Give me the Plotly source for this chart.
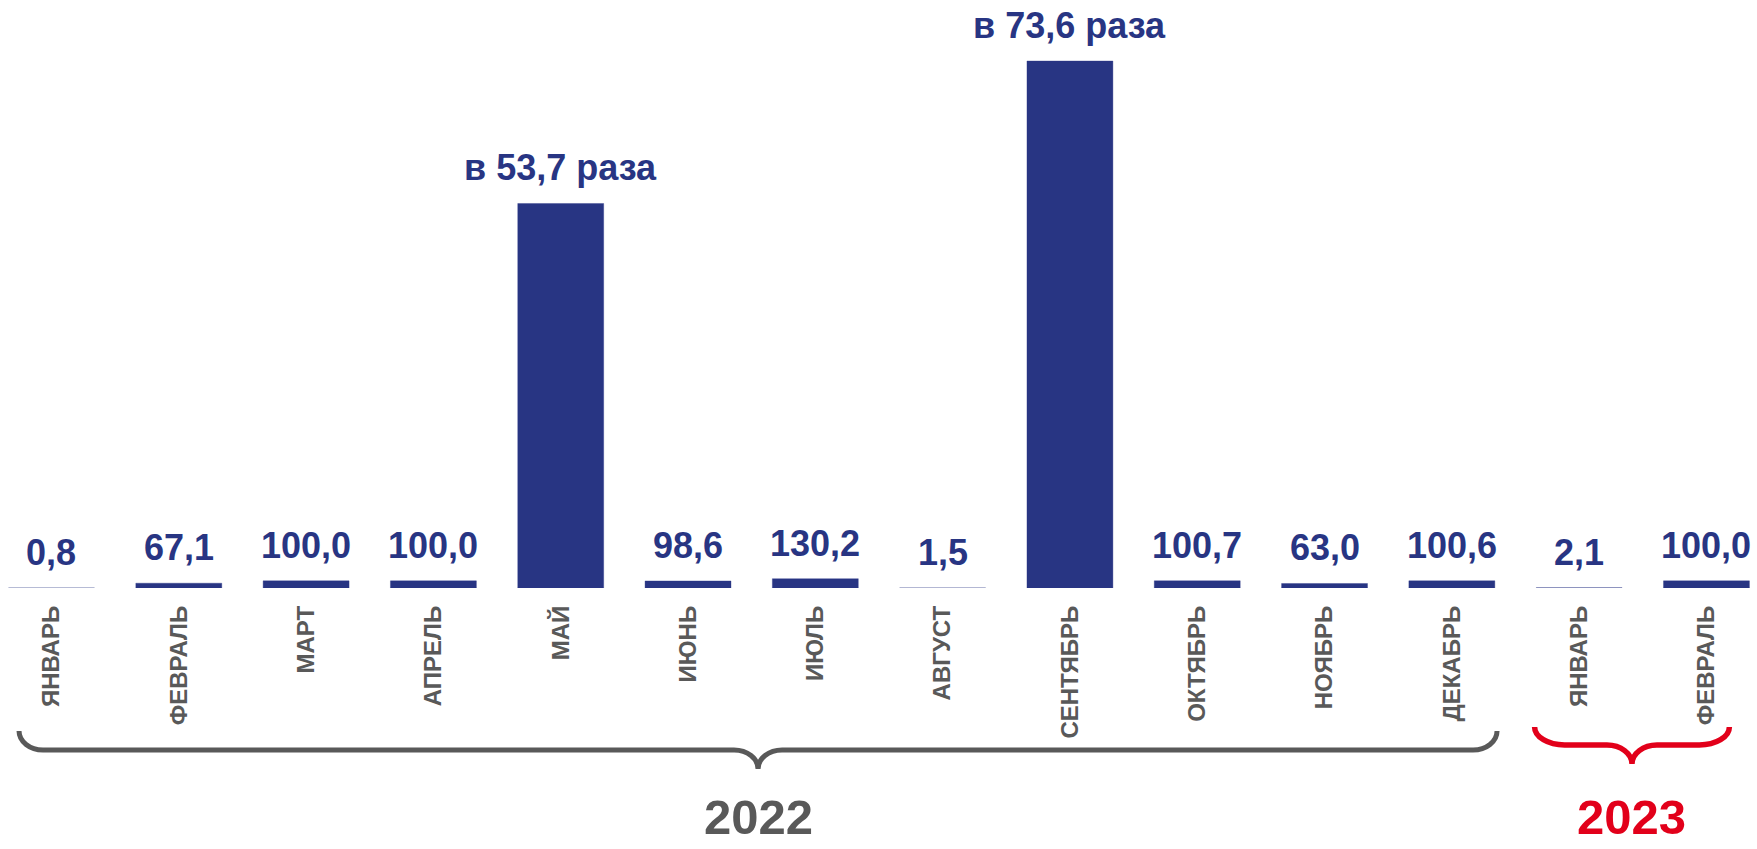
import plotly.graph_objects as go

# ---------------- data ----------------
months = ["ЯНВАРЬ", "ФЕВРАЛЬ", "МАРТ", "АПРЕЛЬ", "МАЙ", "ИЮНЬ", "ИЮЛЬ",
          "АВГУСТ", "СЕНТЯБРЬ", "ОКТЯБРЬ", "НОЯБРЬ", "ДЕКАБРЬ",
          "ЯНВАРЬ", "ФЕВРАЛЬ"]
values = [0.8, 67.1, 100.0, 100.0, 5370.0, 98.6, 130.2, 1.5, 7360.0,
          100.7, 63.0, 100.6, 2.1, 100.0]
years = ["2022", "2023"]
year_first = [0, 12]   # index of first month of each year
year_last = [11, 13]   # index of last month of each year

# ---------------- style ----------------
NAVY = "#283583"
GREY = "#595959"
RED = "#E2001A"
FONT = "Liberation Sans, Arial, sans-serif"
W, H = 1757, 849
M_B = 261
PLOT_H = H - M_B
XR = [-0.4045, 13.397]
YR = [0, 8212]
PX_X = W / (XR[1] - XR[0])   # pixels per category unit


def fmt(v):
    if v >= 1000:
        return "в " + f"{v / 100:.1f}".replace(".", ",") + " раза"
    return f"{v:.1f}".replace(".", ",")


x_idx = list(range(len(months)))

fig = go.Figure()
fig.add_trace(go.Bar(
    x=x_idx, y=values,
    marker=dict(color=NAVY, line=dict(color="rgba(40,53,131,0.35)", width=1)),
    width=0.675,
    hoverinfo="skip",
))

# value labels
for i, v in enumerate(values):
    fig.add_annotation(
        x=i, y=v, xref="x", yref="y",
        text=fmt(v), showarrow=False, yanchor="bottom",
        yshift=13,
        font=dict(family=FONT, size=36, color=NAVY, weight="bold"),
    )


def brace(xa, xb, line_below, up, down, r_end, r_mid, color, width):
    """Curly brace path; xa/xb in category units, offsets in px below axis."""
    def X(px_off, base):
        return base + px_off / PX_X

    def Y(px_below):
        return -px_below / PLOT_H

    xm = (xa + xb) / 2
    yl = line_below
    k = 0.55
    p = []
    p.append(f"M {xa},{Y(yl - up)}")
    p.append(f"C {xa},{Y(yl - up + k * up)} {X(r_end * (1 - k), xa)},{Y(yl)} {X(r_end, xa)},{Y(yl)}")
    p.append(f"L {X(-r_mid, xm)},{Y(yl)}")
    p.append(f"C {X(-r_mid * (1 - k), xm)},{Y(yl)} {xm},{Y(yl + down * (1 - k))} {xm},{Y(yl + down)}")
    p.append(f"C {xm},{Y(yl + down * (1 - k))} {X(r_mid * (1 - k), xm)},{Y(yl)} {X(r_mid, xm)},{Y(yl)}")
    p.append(f"L {X(-r_end, xb)},{Y(yl)}")
    p.append(f"C {X(-r_end * (1 - k), xb)},{Y(yl)} {xb},{Y(yl - up + k * up)} {xb},{Y(yl - up)}")
    fig.add_shape(type="path", path=" ".join(p), xref="x", yref="paper",
                  line=dict(color=color, width=width), layer="above")
    return xm


brace_specs = [
    dict(pad_l=0.255, pad_r=0.355, below=162, up=19, down=19, r_end=24, r_mid=24, color=GREY, width=5),
    dict(pad_l=0.35, pad_r=0.18, below=157, up=18, down=19, r_end=30, r_mid=25, color=RED, width=5.5),
]

for yr, f0, f1, s in zip(years, year_first, year_last, brace_specs):
    xm = brace(f0 - s["pad_l"], f1 + s["pad_r"], s["below"], s["up"], s["down"],
               s["r_end"], s["r_mid"], s["color"], s["width"])
    fig.add_annotation(
        x=xm, y=-229 / PLOT_H, xref="x", yref="paper",
        text=yr, showarrow=False, yanchor="middle",
        font=dict(family=FONT, size=49, color=s["color"], weight="bold"),
    )

fig.update_layout(
    width=W, height=H,
    margin=dict(l=0, r=0, t=0, b=M_B),
    paper_bgcolor="white", plot_bgcolor="white",
    showlegend=False,
    bargap=0.325,
    xaxis=dict(
        range=XR, tickmode="array", tickvals=x_idx, ticktext=months,
        tickangle=-90, showgrid=False, zeroline=False, showline=False,
        ticks="", ticklabelstandoff=12,
        tickfont=dict(family=FONT, size=24, color=GREY, weight="bold"),
    ),
    yaxis=dict(range=YR, visible=False, showgrid=False, zeroline=False),
)

fig.write_html(
    "out.html",
    config={"displayModeBar": False},
    post_script="document.body.style.margin='0';document.body.style.overflow='hidden';",
)
